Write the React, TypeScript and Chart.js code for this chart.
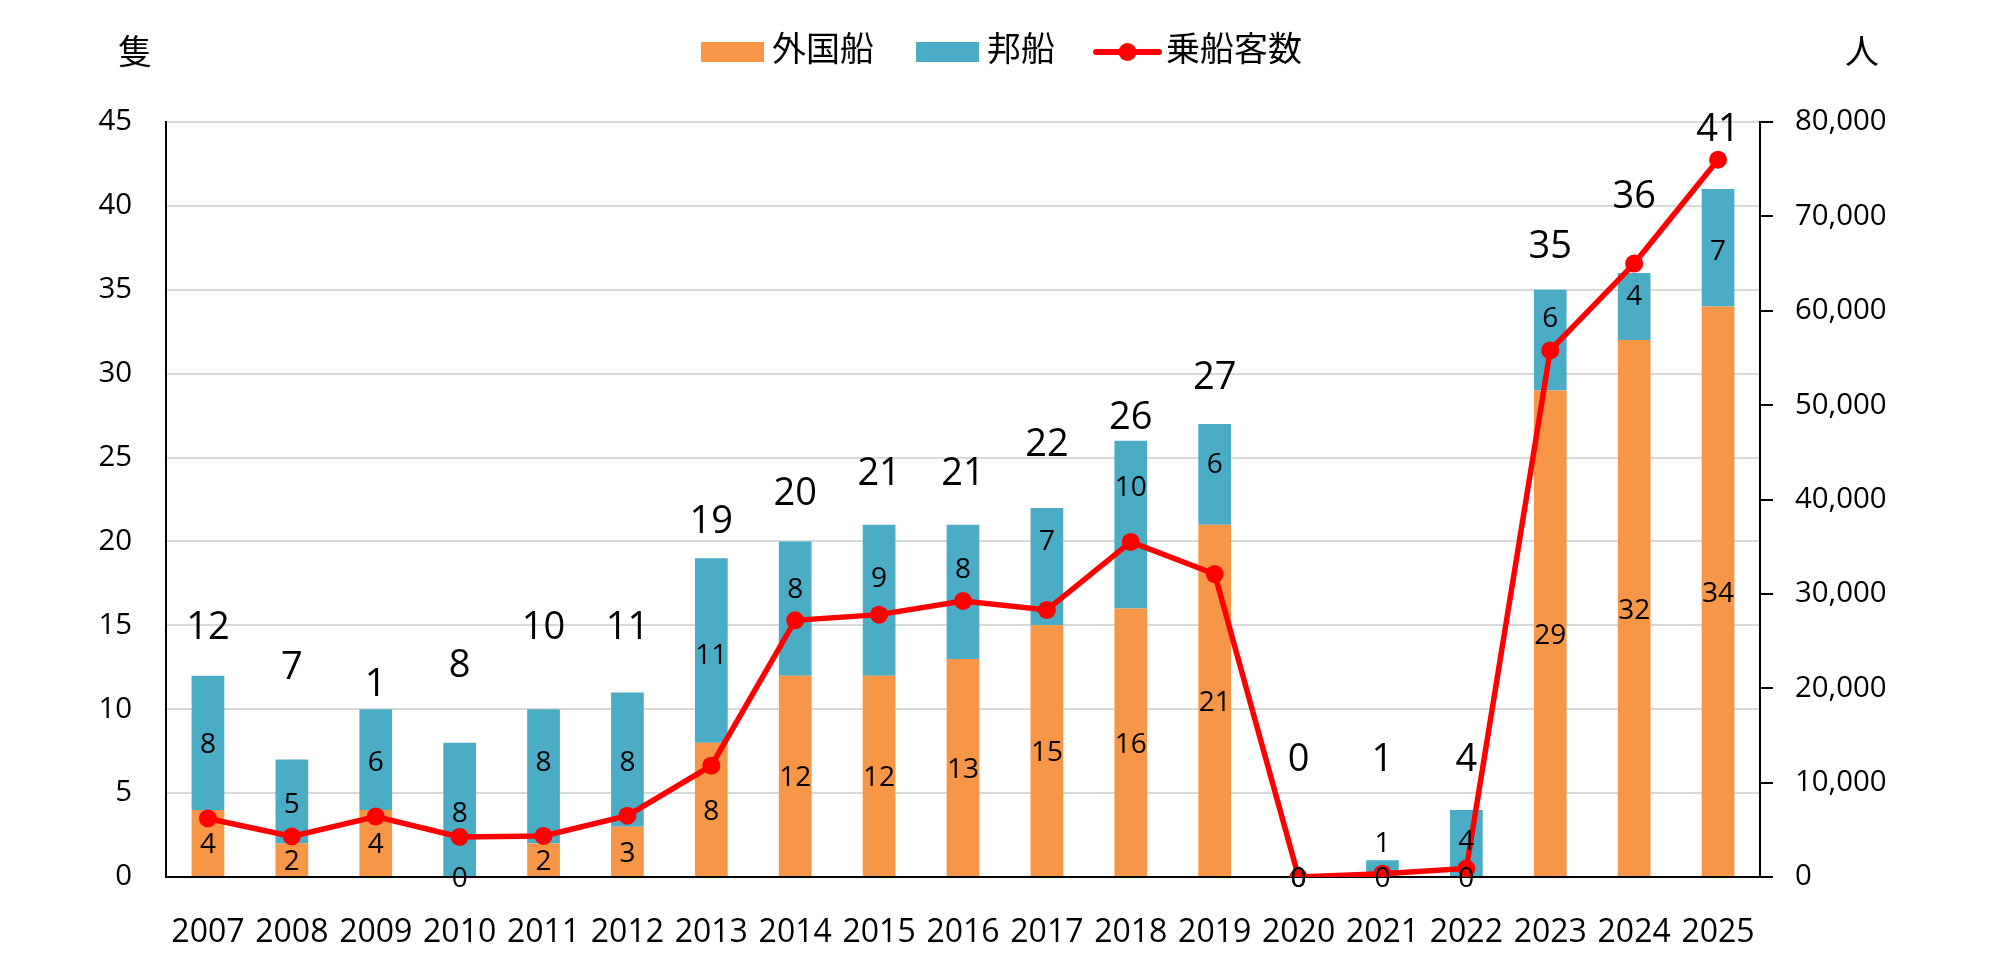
import React, { useEffect, useRef } from 'react';
import { Chart, registerables } from 'chart.js';

Chart.register(...registerables);

// ---- data ----
const years = ['2007', '2008', '2009', '2010', '2011', '2012', '2013', '2014', '2015', '2016', '2017', '2018', '2019', '2020', '2021', '2022', '2023', '2024', '2025'];
const foreignShips = [4, 2, 4, 0, 2, 3, 8, 12, 12, 13, 15, 16, 21, 0, 0, 0, 29, 32, 34];
const japaneseShips = [8, 5, 6, 8, 8, 8, 11, 8, 9, 8, 7, 10, 6, 0, 1, 4, 6, 4, 7];
const passengers = [6200, 4300, 6400, 4250, 4350, 6500, 11800, 27200, 27800, 29250, 28300, 35500, 32100, 0, 350, 900, 55800, 65000, 76000];
// total labels as printed in the reference (2009 reads "1")
const totalLabels = ['12', '7', '1', '8', '10', '11', '19', '20', '21', '21', '22', '26', '27', '0', '1', '4', '35', '36', '41'];
// value-axis level at which each total label sits
const totalLabelLevel = [15, 12.6, 11.6, 12.7, 15, 15, 21.3, 23, 24.2, 24.2, 25.9, 27.5, 29.9, 7.1, 7.1, 7.1, 37.7, 40.7, 44.65];
// value-axis level at which each 邦船 label sits
const japaneseLabelLevel = [8, 4.4, 6.9, 3.9, 6.9, 6.9, 13.3, 17.2, 17.9, 18.4, 20.1, 23.3, 24.7, 0, 2.1, 2.2, 33.4, 34.7, 37.4];

const seriesNames = ['外国船', '邦船', '乗船客数'];
const leftUnit = '隻';
const rightUnit = '人';

const NUM_FONT = "'Open Sans', sans-serif";
const CJK_FONT = "'Noto Sans CJK JP', sans-serif";
const ORANGE = '#F79646';
const BLUE = '#4BACC6';
const RED = '#FF0000';

const labelPlugin = {
  id: 'customLabels',
  afterDatasetsDraw(chart: any) {
    const ctx = chart.ctx;
    const xs = chart.scales.x;
    const ys = chart.scales.y;
    ctx.save();
    ctx.fillStyle = '#000';
    ctx.textAlign = 'center';
    ctx.textBaseline = 'alphabetic';
    const drawNum = (text: string, cx: number, cy: number, size: number) => {
      ctx.font = `${size}px ${NUM_FONT}`;
      ctx.fillText(text, cx, cy + 0.357 * size);
    };
    years.forEach((_, i) => {
      const cx = xs.getPixelForValue(i);
      drawNum(String(foreignShips[i]), cx, ys.getPixelForValue(foreignShips[i] / 2), 28);
      drawNum(String(japaneseShips[i]), cx, ys.getPixelForValue(japaneseLabelLevel[i]), 28);
      drawNum(totalLabels[i], cx, ys.getPixelForValue(totalLabelLevel[i]), 38);
    });
    ctx.restore();
  },
  afterDraw(chart: any) {
    const ctx = chart.ctx;
    ctx.save();
    // axis unit titles
    ctx.fillStyle = '#000';
    ctx.font = `34px ${CJK_FONT}`;
    ctx.textAlign = 'center';
    ctx.textBaseline = 'middle';
    ctx.fillText(leftUnit, 135, 51);
    ctx.fillText(rightUnit, 1862, 51);

    // legend
    ctx.textAlign = 'left';
    ctx.fillStyle = ORANGE;
    ctx.fillRect(701, 42, 63, 20);
    ctx.fillStyle = '#000';
    ctx.fillText(seriesNames[0], 772, 48);
    ctx.fillStyle = BLUE;
    ctx.fillRect(916, 42, 63, 20);
    ctx.fillStyle = '#000';
    ctx.fillText(seriesNames[1], 987, 48);
    ctx.strokeStyle = RED;
    ctx.lineWidth = 6;
    ctx.lineCap = 'round';
    ctx.beginPath();
    ctx.moveTo(1096, 52);
    ctx.lineTo(1159, 52);
    ctx.stroke();
    ctx.fillStyle = RED;
    ctx.beginPath();
    ctx.arc(1127.5, 52, 9, 0, Math.PI * 2);
    ctx.fill();
    ctx.fillStyle = '#000';
    ctx.fillText(seriesNames[2], 1166, 48);
    ctx.restore();
  },
};

export default function App() {
  const canvasRef = useRef<HTMLCanvasElement | null>(null);

  useEffect(() => {
    if (!canvasRef.current) return;
    const chart = new Chart(canvasRef.current, {
      type: 'bar',
      data: {
        labels: years,
        datasets: [
          {
            type: 'bar',
            label: seriesNames[0],
            data: foreignShips,
            backgroundColor: ORANGE,
            yAxisID: 'y',
            stack: 's',
            order: 1,
            barPercentage: 0.39,
            categoryPercentage: 1,
          },
          {
            type: 'bar',
            label: seriesNames[1],
            data: japaneseShips,
            backgroundColor: BLUE,
            yAxisID: 'y',
            stack: 's',
            order: 1,
            barPercentage: 0.39,
            categoryPercentage: 1,
          },
          {
            type: 'line',
            label: seriesNames[2],
            data: passengers,
            yAxisID: 'y1',
            borderColor: RED,
            backgroundColor: RED,
            borderWidth: 5.5,
            pointRadius: 9,
            pointHoverRadius: 9,
            pointBackgroundColor: RED,
            pointBorderColor: RED,
            pointBorderWidth: 0,
            tension: 0,
            order: 0,
          } as any,
        ],
      },
      options: {
        responsive: true,
        maintainAspectRatio: false,
        animation: false,
        layout: { padding: { top: 122, left: 0, right: 0, bottom: 0 } },
        plugins: {
          legend: { display: false },
          tooltip: { enabled: false },
        },
        scales: {
          x: {
            stacked: true,
            grid: { display: false },
            border: { display: true, color: '#000', width: 2 },
            ticks: {
              font: { family: NUM_FONT, size: 32 },
              color: '#000',
              padding: 29,
              maxRotation: 0,
              autoSkip: false,
            },
            afterFit: (s: any) => {
              s.height = 89;
            },
          },
          y: {
            stacked: true,
            min: 0,
            max: 45,
            ticks: {
              stepSize: 5,
              font: { family: NUM_FONT, size: 29.4 },
              color: '#000',
              padding: 34,
            },
            grid: { color: '#d9d9d9', lineWidth: 2, drawTicks: false },
            border: { color: '#000', width: 2 },
            afterFit: (s: any) => {
              s.width = 166;
            },
          },
          y1: {
            position: 'right',
            min: 0,
            max: 80000,
            ticks: {
              stepSize: 10000,
              font: { family: NUM_FONT, size: 29.4 },
              color: '#000',
              padding: 22,
              callback: (v: any) => Number(v).toLocaleString('en-US'),
            },
            grid: { drawOnChartArea: false, color: '#000', tickLength: 13, lineWidth: 2 },
            border: { color: '#000', width: 2 },
            afterFit: (s: any) => {
              s.width = 240;
            },
          },
        },
      } as any,
      plugins: [labelPlugin],
    });
    return () => chart.destroy();
  }, []);

  return (
    <div style={{ position: 'absolute', left: 0, top: 0, width: 2000, height: 966, background: '#fff' }}>
      <canvas ref={canvasRef} />
    </div>
  );
}
